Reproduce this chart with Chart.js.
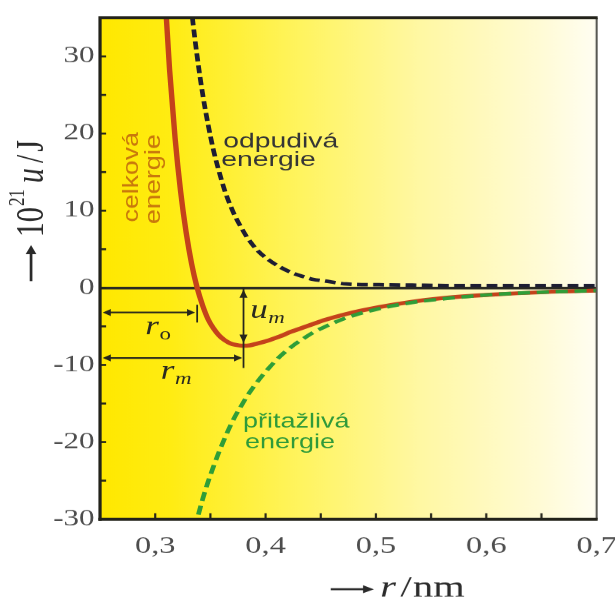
<!DOCTYPE html>
<html>
<head>
<meta charset="utf-8">
<script src="https://cdn.jsdelivr.net/npm/chart.js@4.4.1/dist/chart.umd.min.js"></script>
<style>
  html, body { margin: 0; padding: 0; background: #fff; overflow: hidden; }
  /* the original figure is stretched sideways, so the whole canvas is too */
  #wrap { position: absolute; left: 0; top: 0; width: 470px; height: 598px; transform: scaleX(1.3487); transform-origin: 0 0; }
</style>
</head>
<body>
<div id="wrap"><canvas id="energyChart"></canvas></div>
<script>
// distance r in nm
const rValues = [0.303, 0.308, 0.313, 0.318, 0.323, 0.328, 0.333, 0.338, 0.343, 0.348, 0.353, 0.358, 0.363, 0.368, 0.373, 0.378, 0.383, 0.393, 0.403, 0.413, 0.423, 0.433, 0.443, 0.453, 0.473, 0.503, 0.533, 0.563, 0.603, 0.653, 0.703];
// energies, 10^21 u / J
const totalEnergy = [54.6, 39.8, 28.3, 19.4, 12.5, 7.2, 3.1, 0.0, -2.3, -4.1, -5.3, -6.2, -6.8, -7.2, -7.4, -7.5, -7.5, -7.2, -6.8, -6.3, -5.7, -5.2, -4.7, -4.2, -3.4, -2.5, -1.8, -1.3, -0.9, -0.55, -0.35];
const repulsiveEnergy = [112.8, 92.5, 76.1, 62.8, 52.0, 43.2, 35.9, 30.0, 25.1, 21.1, 17.7, 15.0, 12.6, 10.7, 9.1, 7.8, 6.6, 4.8, 3.6, 2.7, 2.0, 1.5, 1.1, 0.9, 0.5, 0.4, 0.35, 0.3, 0.3, 0.3, 0.3];
const attractiveEnergy = [-58.2, -52.7, -47.8, -43.4, -39.5, -36.0, -32.8, -30.0, -27.4, -25.1, -23.1, -21.2, -19.5, -17.9, -16.5, -15.3, -14.1, -12.1, -10.4, -8.9, -7.7, -6.7, -5.8, -5.1, -3.9, -2.7, -1.9, -1.4, -0.9, -0.55, -0.35];

const xTickValues = [0.3, 0.4, 0.5, 0.6, 0.7];
const xTickLabels = ['0,3', '0,4', '0,5', '0,6', '0,7'];
const yTickValues = [-30, -20, -10, 0, 10, 20, 30];
const yTickLabels = ['-30', '-20', '-10', '0', '10', '20', '30'];

// r0, rm and um markers
const r0 = 0.338;
const rm = 0.380;
const um = -7.5;

const serif = '"Liberation Serif", "Times New Roman", serif';
const sans = '"Liberation Sans", Arial, sans-serif';

function labelFor(v, values, labels) {
    const i = values.findIndex(t => Math.abs(t - v) < 1e-6);
    return i >= 0 ? labels[i] : '';
}

function toPoints(ys) {
    return rValues.map((r, i) => ({ x: r, y: ys[i] }));
}

function arrowHead(ctx, x, y, dir, len, half) {
    ctx.beginPath();
    if (dir === 'left') { ctx.moveTo(x, y); ctx.lineTo(x + len, y - half); ctx.lineTo(x + len, y + half); }
    else if (dir === 'right') { ctx.moveTo(x, y); ctx.lineTo(x - len, y - half); ctx.lineTo(x - len, y + half); }
    else if (dir === 'up') { ctx.moveTo(x, y); ctx.lineTo(x - half, y + len); ctx.lineTo(x + half, y + len); }
    else { ctx.moveTo(x, y); ctx.lineTo(x - half, y - len); ctx.lineTo(x + half, y - len); }
    ctx.closePath();
    ctx.fill();
}

function line(ctx, x1, y1, x2, y2) {
    ctx.beginPath();
    ctx.moveTo(x1, y1);
    ctx.lineTo(x2, y2);
    ctx.stroke();
}

function rotatedLabel(ctx, text, x, y, length, font, color) {
    ctx.save();
    ctx.translate(x, y);
    ctx.rotate(-Math.PI / 2);
    ctx.font = font;
    const w = ctx.measureText(text).width;
    ctx.scale(length / w, 1);
    ctx.fillStyle = color;
    ctx.textBaseline = 'alphabetic';
    ctx.textAlign = 'left';
    ctx.fillText(text, 0, 0);
    ctx.restore();
}

function symbol(ctx, x, y, main, sub, subItalic) {
    ctx.font = 'italic 26px ' + serif;
    ctx.fillText(main, x, y);
    const w = ctx.measureText(main).width;
    ctx.font = (subItalic ? 'italic ' : '') + '17px ' + serif;
    ctx.fillText(sub, x + w + 0.5, y + 5);
}

const decor = {
    id: 'decor',
    beforeDraw(chart) {
        const { ctx, chartArea: a } = chart;
        const g = ctx.createLinearGradient(a.left, 0, a.right, 0);
        g.addColorStop(0, '#FFE800');
        g.addColorStop(0.14, '#FFEC12');
        g.addColorStop(0.4, '#FFF45E');
        g.addColorStop(0.64, '#FFF8A2');
        g.addColorStop(0.88, '#FFFBD4');
        g.addColorStop(1, '#FFFEF2');
        ctx.save();
        ctx.fillStyle = g;
        ctx.fillRect(a.left, a.top, a.right - a.left, a.bottom - a.top);
        ctx.restore();
    },
    afterDraw(chart) {
        const { ctx, chartArea: a } = chart;
        const xs = chart.scales.x;
        const ys = chart.scales.y;
        const px = v => xs.getPixelForValue(v);
        const py = v => ys.getPixelForValue(v);
        ctx.save();

        // r0, rm and um dimension arrows
        ctx.strokeStyle = '#26261c';
        ctx.fillStyle = '#26261c';
        ctx.lineWidth = 1.6;
        const yR0 = py(-3.2);
        line(ctx, a.left + 4, yR0, px(r0) - 4, yR0);
        arrowHead(ctx, a.left + 2, yR0, 'left', 6, 3.5);
        arrowHead(ctx, px(r0) - 1.5, yR0, 'right', 6, 3.5);
        ctx.lineWidth = 1.3;
        line(ctx, px(r0), py(-2.2), px(r0), py(-4.5));

        ctx.lineWidth = 1.6;
        const yRm = py(-9.1);
        line(ctx, a.left + 4, yRm, px(rm) - 4, yRm);
        arrowHead(ctx, a.left + 2, yRm, 'left', 6, 3.5);
        arrowHead(ctx, px(rm) - 1, yRm, 'right', 6, 3.5);
        ctx.lineWidth = 1.3;
        line(ctx, px(rm), py(0), px(rm), py(-10.4));
        arrowHead(ctx, px(rm), py(0) + 2, 'up', 8, 3);
        arrowHead(ctx, px(rm), py(um) - 3, 'down', 8, 3);

        ctx.fillStyle = '#2a2a20';
        ctx.textBaseline = 'alphabetic';
        ctx.textAlign = 'left';
        symbol(ctx, px(0.291), py(-6.05), 'r', 'o', false);
        symbol(ctx, px(0.305), py(-11.8), 'r', 'm', true);
        symbol(ctx, px(0.386), py(-3.9), 'u', 'm', true);

        // curve labels
        ctx.font = '21px ' + sans;
        ctx.fillStyle = '#353535';
        ctx.fillText('odpudivá', px(0.3616), py(18.15));
        ctx.fillText('energie', px(0.3598), py(15.8));
        ctx.font = '20px ' + sans;
        ctx.fillStyle = '#2f9a3a';
        ctx.fillText('přitažlivá', px(0.3795), py(-18.15));
        ctx.fillText('energie', px(0.3813), py(-20.85));
        rotatedLabel(ctx, 'celková', px(0.2848), py(8.5), 90, '16px ' + sans, '#c9780c');
        rotatedLabel(ctx, 'energie', px(0.3045), py(8.24), 90, '16px ' + sans, '#c9780c');

        // inner tick marks
        ctx.strokeStyle = '#26261c';
        ctx.lineWidth = 2;
        ys.ticks.forEach(t => {
            if (t.value <= ys.min || t.value >= ys.max) return;
            const y = py(t.value);
            line(ctx, a.left, y, a.left + 4.5, y);
        });
        ctx.lineWidth = 1.6;
        xs.ticks.forEach(t => {
            if (t.value <= xs.min + 1e-9 || t.value >= xs.max - 1e-9) return;
            const x = px(t.value);
            line(ctx, x, a.bottom, x, a.bottom - 6);
        });

        // frame
        ctx.strokeStyle = '#555550';
        ctx.lineWidth = 1.5;
        line(ctx, a.right, a.top, a.right, a.bottom);
        ctx.strokeStyle = '#22221a';
        ctx.lineWidth = 3;
        line(ctx, a.left, a.top, a.right + 0.75, a.top);
        line(ctx, a.left - 1.2, a.bottom, a.right + 0.75, a.bottom);
        ctx.lineWidth = 2.4;
        line(ctx, a.left, a.top - 1.5, a.left, a.bottom + 1.5);

        // x axis title: -> r / nm
        ctx.fillStyle = '#2a2a2a';
        ctx.strokeStyle = '#2a2a2a';
        ctx.lineWidth = 2;
        line(ctx, 245, 589, 270, 589);
        arrowHead(ctx, 277, 589, 'right', 8, 4);
        ctx.font = 'italic 30px ' + serif;
        ctx.fillText('r', 281.7, 596);
        ctx.font = '30px ' + serif;
        ctx.fillText('/', 296.6, 596);
        ctx.fillText('nm', 306, 596);

        // y axis title: -> 10^21 u / J (rotated)
        ctx.translate(22, 281);
        ctx.rotate(-Math.PI / 2);
        line(ctx, 0, 1, 28, 1);
        arrowHead(ctx, 36, 1, 'right', 9, 4);
        let x = 44;
        ctx.font = '30px ' + serif;
        ctx.fillText('10', x, 10);
        x += ctx.measureText('10').width + 1;
        ctx.font = '17px ' + serif;
        ctx.fillText('21', x, -4);
        x += ctx.measureText('21').width + 6;
        ctx.font = 'italic 30px ' + serif;
        ctx.fillText('u', x, 10);
        x += ctx.measureText('u').width + 5;
        ctx.font = '30px ' + serif;
        ctx.fillText('/', x, 10);
        x += ctx.measureText('/').width + 3;
        ctx.fillText('J', x, 10);

        ctx.restore();
    }
};

const ctx = document.getElementById('energyChart').getContext('2d');
const energyChart = new Chart(ctx, {
    type: 'line',
    data: {
        datasets: [{
            label: 'odpudivá energie',
            data: toPoints(repulsiveEnergy),
            borderColor: '#1d1d33',
            borderWidth: 3.5,
            borderDash: [8, 4],
            pointRadius: 0,
            cubicInterpolationMode: 'monotone',
            fill: false
        }, {
            label: 'přitažlivá energie',
            data: toPoints(attractiveEnergy),
            borderColor: '#2f9e38',
            borderWidth: 3.5,
            borderDash: [9, 5],
            pointRadius: 0,
            cubicInterpolationMode: 'monotone',
            fill: false
        }, {
            label: 'celková energie',
            data: toPoints(totalEnergy),
            borderColor: '#c4421b',
            borderWidth: 4,
            pointRadius: 0,
            cubicInterpolationMode: 'monotone',
            fill: false
        }]
    },
    options: {
        responsive: true,
        maintainAspectRatio: false,
        animation: false,
        devicePixelRatio: 1.35,
        layout: { padding: { left: 0, right: 23.6, top: 14, bottom: 0 } },
        plugins: {
            legend: { display: false },
            tooltip: { enabled: false }
        },
        scales: {
            x: {
                type: 'linear',
                min: 0.25,
                max: 0.7,
                grid: { display: false, drawTicks: false },
                border: { display: false },
                ticks: {
                    stepSize: 0.05,
                    autoSkip: false,
                    maxRotation: 0,
                    padding: 13,
                    color: '#4d4d4d',
                    font: { family: serif, size: 24 },
                    callback: v => labelFor(v, xTickValues, xTickLabels)
                },
                afterFit: s => { s.height = 79; }
            },
            y: {
                type: 'linear',
                min: -30,
                max: 35,
                grid: {
                    drawTicks: false,
                    color: c => (c.tick && c.tick.value === 0 ? '#2a2a22' : 'rgba(0,0,0,0)'),
                    lineWidth: c => (c.tick && c.tick.value === 0 ? 2.5 : 0)
                },
                border: { display: false },
                ticks: {
                    stepSize: 5,
                    autoSkip: false,
                    padding: 4,
                    color: '#4d4d4d',
                    font: { family: serif, size: 23 },
                    callback: v => labelFor(v, yTickValues, yTickLabels)
                },
                afterFit: s => { s.width = 74.1; }
            }
        }
    },
    plugins: [decor]
});
</script>
</body>
</html>
